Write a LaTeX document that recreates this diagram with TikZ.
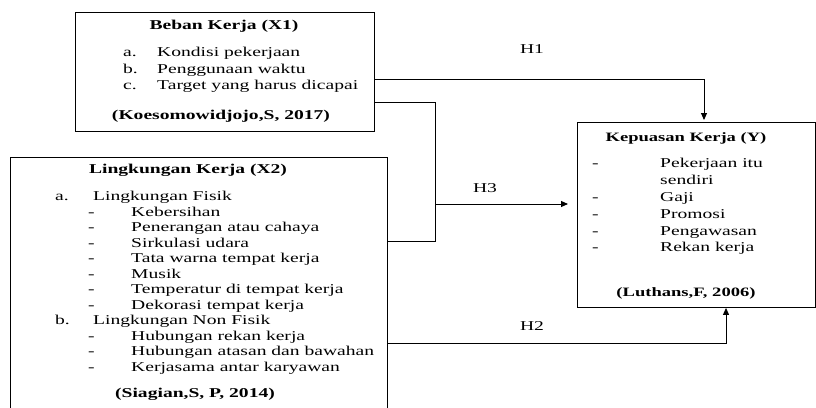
\documentclass[tikz,border=0pt]{standalone}
\usepackage{fontspec}
\setmainfont{Liberation Serif}[FakeStretch=1.45]
\usetikzlibrary{arrows.meta}
\begin{document}
\begin{tikzpicture}[x=1pt,y=-1pt,
  box/.style={draw, line width=0.9pt, rectangle, anchor=north west, inner sep=0pt},
  txt/.style={anchor=base west, inner sep=0pt, font=\fontsize{13.5}{16}\selectfont},
  ttl/.style={anchor=base, inner sep=0pt, font=\fontsize{13.5}{16}\selectfont\bfseries},
  ttlsm/.style={anchor=base, inner sep=0pt, font=\fontsize{12.8}{16}\selectfont\bfseries},
  lbl/.style={anchor=base, inner sep=0pt, font=\fontsize{13.5}{16}\selectfont},
  conn/.style={line width=0.9pt},
  arr/.style={conn, -{Triangle[length=7pt,width=6pt]}}
]
\clip (0,0) rectangle (816,407);

% boxes
\node[box, minimum width=299pt, minimum height=119pt] (x1) at (75,12) {};
\node[box, minimum width=377pt, minimum height=270pt] (x2) at (10,157) {};
\node[box, minimum width=238pt, minimum height=185pt] (y) at (577,122) {};

% X1 content
\node[ttl] (x1t) at (224,29.5) {Beban Kerja (X1)};
\node[txt] (x1la) at (123,56.5) {a.};
\node[txt] (x1ia) at (157,56.5) {Kondisi pekerjaan};
\node[txt] (x1lb) at (123,73) {b.};
\node[txt] (x1ib) at (157,73) {Penggunaan waktu};
\node[txt] (x1lc) at (123,89.5) {c.};
\node[txt] (x1ic) at (157,89.5) {Target yang harus dicapai};
\node[ttl] (x1c) at (221,119.5) {(Koesomowidjojo,S, 2017)};

% X2 content
\node[ttl] (x2t) at (188,173.5) {Lingkungan Kerja (X2)};
\node[txt] (x2la) at (55,200.5) {a.};
\node[txt] (x2ia) at (93,200.5) {Lingkungan Fisik};
\node[txt] (x2d1) at (88,216) {-};
\node[txt] (x2i1) at (131,216) {Kebersihan};
\node[txt] (x2d2) at (88,231.5) {-};
\node[txt] (x2i2) at (131,231.5) {Penerangan atau cahaya};
\node[txt] (x2d3) at (88,247) {-};
\node[txt] (x2i3) at (131,247) {Sirkulasi udara};
\node[txt] (x2d4) at (88,262.5) {-};
\node[txt] (x2i4) at (131,262.5) {Tata warna tempat kerja};
\node[txt] (x2d5) at (88,278) {-};
\node[txt] (x2i5) at (131,278) {Musik};
\node[txt] (x2d6) at (88,293.5) {-};
\node[txt] (x2i6) at (131,293.5) {Temperatur di tempat kerja};
\node[txt] (x2d7) at (88,309) {-};
\node[txt] (x2i7) at (131,309) {Dekorasi tempat kerja};
\node[txt] (x2lb) at (55,324.5) {b.};
\node[txt] (x2ib) at (93,324.5) {Lingkungan Non Fisik};
\node[txt] (x2d8) at (88,340) {-};
\node[txt] (x2i8) at (131,340) {Hubungan rekan kerja};
\node[txt] (x2d9) at (88,355.5) {-};
\node[txt] (x2i9) at (131,355.5) {Hubungan atasan dan bawahan};
\node[txt] (x2d10) at (88,371) {-};
\node[txt] (x2i10) at (131,371) {Kerjasama antar karyawan};
\node[ttl] (x2c) at (195,397) {(Siagian,S, P, 2014)};

% Y content
\node[ttlsm] (yt) at (686,141) {Kepuasan Kerja (Y)};
\node[txt] (yd1) at (592,167) {-};
\node[txt] (yi1) at (660,167) {Pekerjaan itu};
\node[txt] (yi1b) at (660,184) {sendiri};
\node[txt] (yd2) at (592,201) {-};
\node[txt] (yi2) at (660,201) {Gaji};
\node[txt] (yd3) at (592,218) {-};
\node[txt] (yi3) at (660,218) {Promosi};
\node[txt] (yd4) at (592,235) {-};
\node[txt] (yi4) at (660,235) {Pengawasan};
\node[txt] (yd5) at (592,251) {-};
\node[txt] (yi5) at (660,251) {Rekan kerja};
\node[ttlsm] (yc) at (686,296.5) {(Luthans,F, 2006)};

% connector labels
\node[lbl] (h1) at (532,53) {H1};
\node[lbl] (h3) at (485,192) {H3};
\node[lbl] (h2) at (532,330) {H2};

% connectors
\coordinate (c1) at (704,79);
\draw[arr, shorten >=2pt] (x1.east |- c1) -- (c1) -- (y.north -| c1);
\coordinate (c2) at (435,102);
\coordinate (c3) at (435,241);
\draw[conn] (x1.east |- c2) -- (c2) -- (c3) -- (x2.east |- c3);
\coordinate (c4) at (435,204);
\draw[arr, shorten >=9pt] (c4) -- (y.west |- c4);
\coordinate (c5) at (726,343);
\draw[arr] (x2.east |- c5) -- (c5) -- (y.south -| c5);
\end{tikzpicture}
\end{document}
